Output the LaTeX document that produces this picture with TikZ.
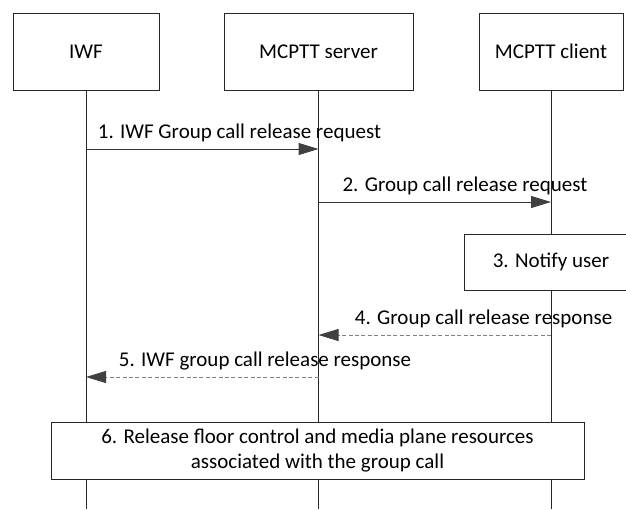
\documentclass[tikz,border=0pt]{standalone}
\usepackage{fontspec}
\setmainfont{Carlito}
\usetikzlibrary{arrows.meta}
\begin{document}
\begin{tikzpicture}[x=0.5pt,y=-0.5pt]
    \tikzstyle{entity}=[draw=black!85,fill=white,inner sep=2pt,font=\fontsize{10.5}{12.6}\selectfont]
    \tikzstyle{lifeline}=[draw=black!85,line width=0.5pt]
    \tikzstyle{msg}=[draw=black!80,line width=0.5pt,-{Triangle[length=10pt,width=6pt,color=black!75]}]
    \tikzstyle{reply}=[msg,draw=black!50,dash pattern=on 2pt off 1.2pt]
    \tikzstyle{lbl}=[font=\fontsize{10.5}{12.6}\selectfont]

    \useasboundingbox (0,0) rectangle (626,509);

    \node[entity,minimum width=73pt,minimum height=38.5pt] at (86,51.5) (iwf) {IWF};
    \node[entity,minimum width=94.5pt,minimum height=38.5pt] at (318.5,51.5) (srv) {MCPTT server};
    \node[entity,minimum width=72pt,minimum height=38.5pt] at (551,51.5) (cli) {MCPTT client};

    \coordinate (iwfend) at (86,509);
    \coordinate (srvend) at (318.5,509);
    \coordinate (cliend) at (551,509);

    \draw[lifeline] (iwf) -- (iwfend);
    \draw[lifeline] (srv) -- (srvend);
    \draw[lifeline] (cli) -- (cliend);

    \coordinate (iwf1) at (86,149);
    \coordinate (srv1) at (318.5,149);
    \coordinate (srv2) at (318.5,202);
    \coordinate (cli2) at (551,202);
    \coordinate (cli4) at (551,335);
    \coordinate (srv4) at (318.5,335);
    \coordinate (srv5) at (318.5,377);
    \coordinate (iwf5) at (86,377);

    \draw[msg] (iwf1) -- (srv1) node[lbl,pos=0.66,above] (l1) {1. IWF Group call release request};
    \draw[msg] (srv2) -- (cli2) node[lbl,pos=0.63,above] (l2) {2. Group call release request};

    \node[entity,minimum width=87pt,minimum height=28pt] at (551,262) (notify) {3. Notify user};

    \draw[reply] (cli4) -- (srv4) node[lbl,pos=0.29,above] (l4) {4. Group call release response};
    \draw[reply] (srv5) -- (iwf5) node[lbl,pos=0.23,above] (l5) {5. IWF group call release response};

    \node[entity,align=center,minimum width=266.5pt,minimum height=28.5pt] at (317.5,450.5) (release)
        {6. Release floor control and media plane resources\\associated with the group call};
\end{tikzpicture}
\end{document}
